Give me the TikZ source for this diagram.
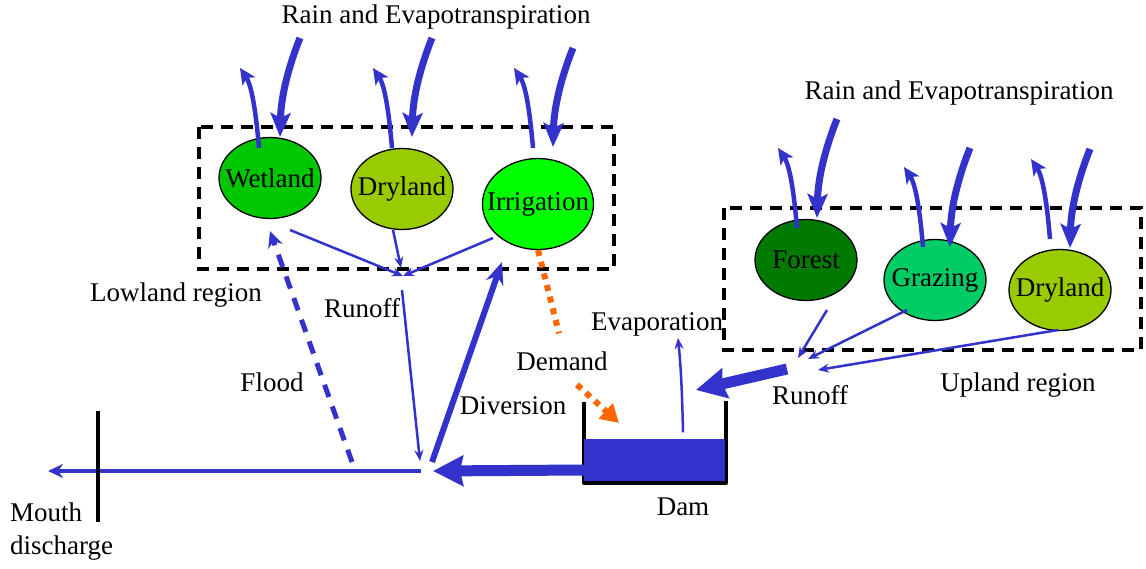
\documentclass[tikz,border=0pt]{standalone}
\usepackage{fontspec}
\setmainfont{Liberation Serif}
\usepackage{tikz}
\usetikzlibrary{arrows.meta,calc,shapes.geometric}
\definecolor{flow}{HTML}{3333CC}
\definecolor{demandc}{HTML}{FF6600}
\definecolor{wetgreen}{HTML}{00C800}
\definecolor{drygreen}{HTML}{99CC00}
\definecolor{irrgreen}{HTML}{00FF00}
\definecolor{forestgreen}{HTML}{007A00}
\definecolor{grazegreen}{HTML}{00CC66}
\tikzset{
  landuse/.style={ellipse,draw=black,line width=1.3pt,inner sep=0pt,
                  minimum width=102pt,minimum height=81pt},
  lbl/.style={inner sep=0pt},
  region/.style={draw=black,line width=3.5pt,dash pattern=on 12pt off 8pt},
  rainarrow/.style={draw=flow,line width=7pt,
                    -{Stealth[length=24pt,width=20pt,inset=5pt]}},
  etarrow/.style={draw=flow,line width=4.5pt,
                  -{Stealth[length=16pt,width=15pt,inset=4pt]}},
  runarrow/.style={draw=flow,line width=2.5pt,-{Stealth[length=11pt,width=9pt]}},
  bigflow/.style={draw=flow,line width=11pt,
                  -{Stealth[length=30pt,width=30pt,inset=3pt]}},
  divarrow/.style={draw=flow,line width=6pt,-{Stealth[length=22pt,width=18pt]}},
  floodarrow/.style={draw=flow,line width=5pt,dash pattern=on 13pt off 10pt,
                     -{Stealth[length=16pt,width=15pt]}},
  riverarrow/.style={draw=flow,line width=4.5pt,-{Stealth[length=15pt,width=14pt]}},
  demandline/.style={draw=demandc,line width=6pt,dash pattern=on 6pt off 6pt},
  demandarrow/.style={demandline,-{Triangle[length=18pt,width=20pt]}}
}
\begin{document}
\begin{tikzpicture}[x=1pt,y=-1pt,font=\fontsize{27}{33}\selectfont]
  \useasboundingbox (0,0) rectangle (1146,568);

  % Regions
  \draw[region] (199,127) rectangle (614,269);
  \draw[region] (724,208) rectangle (1141,350);

  % Land uses
  \node[landuse,fill=wetgreen,label=center:Wetland] (wet) at (270,178) {};
  \node[landuse,fill=drygreen,label=center:Dryland] (dry) at (402,189) {};
  \node[landuse,fill=irrgreen,minimum width=111pt,minimum height=91pt,
        label=center:Irrigation] (irr) at (538,204) {};
  \node[landuse,fill=forestgreen,label=center:Forest] (forest) at (806,260) {};
  \node[landuse,fill=grazegreen,label=center:Grazing] (graze) at (935,280) {};
  \node[landuse,fill=drygreen,label=center:Dryland] (dryup) at (1060,290) {};

  % Labels
  \node[lbl] (rainlow) at (436,17) {Rain and Evapotranspiration};
  \node[lbl] (rainup) at (959,93) {Rain and Evapotranspiration};
  \node[lbl] (lowland) at (176,295) {Lowland region};
  \node[lbl] (upland) at (1018,385) {Upland region};
  \node[lbl] (runlow) at (362,308) {Runoff};
  \node[lbl] (runup) at (810,395) {Runoff};
  \node[lbl] (floodlbl) at (272,382) {Flood};
  \node[lbl] (divlbl) at (513,406) {Diversion};
  \node[lbl] (demandlbl) at (562,361) {Demand};
  \node[lbl] (evaplbl) at (657,324) {Evaporation};
  \node[lbl] (damlbl) at (683,507) {Dam};
  \node[lbl,align=left,anchor=west] (mouthlbl) at (10,532) {Mouth\\discharge};

  % Rain and evapotranspiration
  \foreach \n/\ex/\ey/\rx/\ry in {wet/-11/-30/10/-41, dry/-10/-41/10/-52,
      irr/-5/-56/15/-57, forest/-9/-32/11/-42, graze/-12/-33/15/-33,
      dryup/-10/-51/10/-42}{
    \coordinate (\n-etfoot) at ($(\n)+(\ex,\ey)$);
    \coordinate (\n-ettop) at ($(\n-etfoot)+(-19,-80)$);
    \coordinate (\n-raintip) at ($(\n)+(\rx,\ry)$);
    \coordinate (\n-raintop) at ($(\n-raintip)+(20,-99)$);
    \draw[etarrow] (\n-etfoot) .. controls +(-3,-35) and +(12,18) .. (\n-ettop);
    \draw[rainarrow] (\n-raintop) .. controls +(-12,30) and +(1,-40) .. (\n-raintip);
  }

  % Dam
  \node[minimum width=141pt,minimum height=41pt,inner sep=0pt] (dam) at (654.5,460) {};
  \draw[line width=4pt,line join=round]
    ($(dam.south west)+(0,-79)$) -- ($(dam.south west)+(0,2)$)
    -- ($(dam.south east)+(1,2)$) -- ($(dam.south east)+(1,-80)$);
  \fill[flow] (dam.south west) rectangle (dam.north east);

  % Junctions
  \coordinate (lowjoin) at (403,276);
  \coordinate (conf) at (427,470);
  \coordinate (mouth) at (48,471);
  \coordinate (floodfoot) at (352,462);
  \coordinate (upjoin) at (808,359);
  \coordinate (upfeed) at (787,369);
  \coordinate (damin) at (696,390);
  \coordinate (evaptop) at (678,338);

  % Lowland runoff
  \draw[runarrow] ($(wet)+(20,52)$) -- (lowjoin);
  \draw[runarrow] ($(dry)+(-9,41)$) -- ($(lowjoin)+(-2,-8)$);
  \draw[runarrow] ($(irr)+(-45,34)$) -- (lowjoin);
  \draw[runarrow] ($(lowjoin)+(-1,14)$) -- ($(conf)+(-7,-9)$);

  % Upland runoff
  \draw[runarrow] ($(forest)+(21,50)$) -- ($(upjoin)+(-10,-1)$);
  \draw[runarrow] ($(graze)+(-28,30)$) -- (upjoin);
  \draw[runarrow] ($(dryup)+(-2,40)$) -- ($(upjoin)+(10,11)$);
  \draw[bigflow] (upfeed) -- (damin);

  % River
  \draw[bigflow] ($(dam.west)+(0,10)$) -- ($(conf)+(6,1)$);
  \draw[riverarrow] ($(conf)+(-6,1)$) -- (mouth);
  \draw[line width=4pt] (98,411) -- (98,522);
  \draw[divarrow] ($(conf)+(5,-8)$) -- ($(irr)+(-36,58)$);
  \draw[floodarrow] (floodfoot) -- ($(wet.south)+(0,12)$);

  % Demand and evaporation
  \draw[demandline] (irr.south) -- ($(demandlbl.north)+(-3,-18)$);
  \draw[demandarrow] ($(demandlbl.south)+(15,14)$) -- (619,423);
  \draw[runarrow] ($(dam.north)+(28.5,-7)$) .. controls +(-1,-50) and +(2,20) .. (evaptop);
\end{tikzpicture}
\end{document}
